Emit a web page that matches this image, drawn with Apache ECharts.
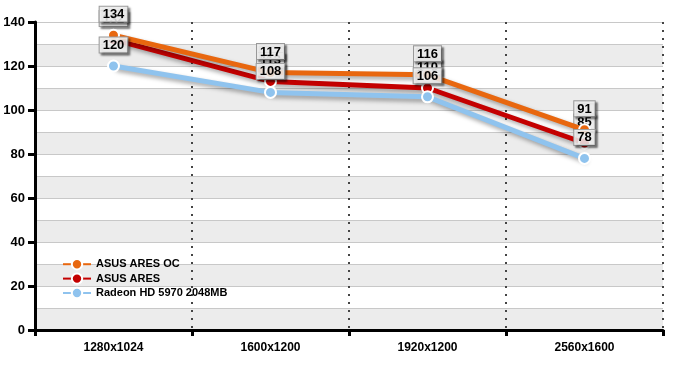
<!DOCTYPE html>
<html><head><meta charset="utf-8">
<script src="https://cdn.jsdelivr.net/npm/echarts@6/dist/echarts.min.js"></script>
<style>html,body{margin:0;padding:0;background:#fff}#c{width:690px;height:369px}</style>
</head><body><div id="c"></div>
<script>
const categories = ['1280x1024','1600x1200','1920x1200','2560x1600'];
const seriesNames = ['ASUS ARES OC','ASUS ARES','Radeon HD 5970 2048MB'];
const aresOC = [134,117,116,91];
const ares = [132,113,110,85];
const radeon = [120,108,106,78];
const yTicks = [0,20,40,60,80,100,120,140];
const colors = ['#e8670f','#c40000','#8fc3ee'];

const font = 'Liberation Sans, Arial, sans-serif';
function mk(name, data, color, z){
  return {
    name, type:'line', data, z,
    symbol:'circle', symbolSize:11,
    itemStyle:{color, borderColor:'#fff', borderWidth:2},
    lineStyle:{color, width:5, shadowColor:'rgba(0,0,0,0.35)', shadowBlur:4, shadowOffsetX:3, shadowOffsetY:3},
    label:{show:true, position:'top', distance:7, color:'#000', fontWeight:'bold', fontSize:13, lineHeight:14, fontFamily:font,
      backgroundColor:'rgba(255,255,255,0.8)', borderColor:'#999', borderWidth:1, padding:[1,3,0,3],
      shadowColor:'rgba(0,0,0,0.45)', shadowBlur:2, shadowOffsetX:2, shadowOffsetY:2},
    labelLayout:{hideOverlap:false},
    emphasis:{disabled:true}, animation:false
  };
}
const chart = echarts.init(document.getElementById('c'));
chart.setOption({
  animation:false,
  backgroundColor:'#fff',
  grid:{left:35, right:27, top:22, bottom:39},
  legend:{orient:'vertical', left:57, top:253, itemGap:2, itemWidth:28, itemHeight:13,
    textStyle:{fontWeight:'bold', fontSize:11, fontFamily:font, color:'#000'},
    data:seriesNames},
  xAxis:{type:'category', data:categories, boundaryGap:true,
    axisLine:{lineStyle:{color:'#000', width:3}},
    axisTick:{show:true, length:6, lineStyle:{color:'#000', width:3}},
    axisLabel:{fontWeight:'bold', fontSize:12, fontFamily:font, color:'#000', margin:12},
    splitLine:{show:true, lineStyle:{color:'#444', type:[2,6], width:2}}},
  yAxis:[{type:'value', min:0, max:140, interval:20,
    axisLine:{show:true, lineStyle:{color:'#000', width:3}},
    axisTick:{show:true, length:7, lineStyle:{color:'#000', width:3}},
    axisLabel:{fontWeight:'bold', fontSize:13, fontFamily:font, color:'#000', margin:10,
      formatter:v=>yTicks.includes(v)?String(v):''},
    splitLine:{show:false}, z:5},
   {type:'value', min:0, max:140, interval:10, position:'left',
    axisLine:{show:false}, axisTick:{show:false}, axisLabel:{show:false},
    splitLine:{show:true, lineStyle:{color:'#c8c8c8', width:1}},
    splitArea:{show:true, areaStyle:{color:['#ececec','#ffffff']}}}],
  series:[mk(seriesNames[1], ares, colors[1], 2), mk(seriesNames[0], aresOC, colors[0], 3), mk(seriesNames[2], radeon, colors[2], 4)]
});
chart.setOption({legend:{data:seriesNames}});
</script></body></html>
